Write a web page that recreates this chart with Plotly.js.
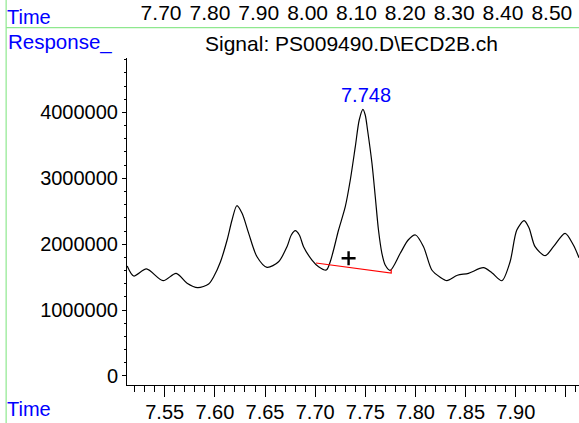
<!DOCTYPE html>
<html>
<head>
<meta charset="utf-8">
<script src="https://cdn.plot.ly/plotly-3.0.1.min.js"></script>
<style>html,body{margin:0;padding:0;background:#fff;}#chart{width:579px;height:423px;}</style>
</head>
<body>
<div id="chart"></div>
<script>
// Retention time (min) of the chromatogram trace
const time = [7.5126, 7.5191, 7.5318, 7.5484, 7.5614, 7.5723, 7.5829, 7.5938, 7.5988, 7.6055,
  7.6122, 7.6171, 7.6219, 7.6271, 7.6337, 7.6420, 7.6520, 7.6635, 7.6719, 7.6762,
  7.6802, 7.6842, 7.6884, 7.6968, 7.7034, 7.7111, 7.7150, 7.7183, 7.7233, 7.7300,
  7.7350, 7.7400, 7.7439, 7.7476, 7.7499, 7.7522, 7.7566, 7.7599, 7.7631, 7.7665,
  7.7698, 7.7748, 7.7848, 7.7927, 7.8000, 7.8080, 7.8163, 7.8246, 7.8313, 7.8418,
  7.8528, 7.8677, 7.8764, 7.8861, 7.8943, 7.9010, 7.9083, 7.9132, 7.9192, 7.9292,
  7.9375, 7.9491, 7.9574, 7.9630];
// Detector response
const response = [1669000, 1517000, 1624000, 1446000, 1558000, 1407000, 1340000, 1396000, 1507000, 1730000,
  2064000, 2367000, 2584000, 2469000, 2165000, 1810000, 1649000, 1734000, 1962000, 2140000,
  2205000, 2140000, 1962000, 1760000, 1659000, 1608000, 1734000, 1912000, 2215000, 2569000,
  2974000, 3480000, 3885000, 4047000, 3961000, 3733000, 3228000, 2721000, 2215000, 1862000,
  1684000, 1604000, 1862000, 2064000, 2140000, 1962000, 1608000, 1498000, 1446000, 1528000,
  1558000, 1643000, 1563000, 1446000, 1734000, 2215000, 2357000, 2246000, 1962000, 1826000,
  1962000, 2165000, 1988000, 1795000];
// Integration baseline (start, end, end tick)
const baseTime = [7.7008, 7.7758, 7.7758];
const baseResp = [1715000, 1563000, 1617000];
// Peak apex marker "+"
const markTime = [7.7333];
const markResp = [1786000];
// Peak label
const peakTime = 7.7476;
const peakResp = 4047000;
const peakLabel = "7.748";
// Axis ticks
const xTickVals = [7.55, 7.60, 7.65, 7.70, 7.75, 7.80, 7.85, 7.90, 7.95];
const xTickText = ["7.55", "7.60", "7.65", "7.70", "7.75", "7.80", "7.85", "7.90", ""];
const yTickVals = [0, 1000000, 2000000, 3000000, 4000000];
const yTickText = ["0", "1000000", "2000000", "3000000", "4000000"];
const topTickVals = [7.70, 7.80, 7.90, 8.00, 8.10, 8.20, 8.30, 8.40, 8.50];
const topTickText = ["7.70", "7.80", "7.90", "8.00", "8.10", "8.20", "8.30", "8.40", "8.50"];
const titleText = "Signal: PS009490.D\\ECD2B.ch";

const FONT = "Liberation Sans, Arial, sans-serif";
const BLUE = "#0000ff";
const GREEN = "#8ee88e";
const PH = 361; // plot height in px (paper units helper)
const py = p => (385 - p) / PH;

const traces = [
  {x: time, y: response, type: "scatter", mode: "lines",
   line: {color: "#000", width: 1.2, shape: "spline", smoothing: 0.8}, hoverinfo: "skip"},
  {x: baseTime, y: baseResp, type: "scatter", mode: "lines",
   line: {color: "#ff0000", width: 1.2}, hoverinfo: "skip"},
  {x: markTime, y: markResp, type: "scatter", mode: "markers",
   marker: {symbol: "cross-thin", size: 10, line: {color: "#000", width: 2.4}}, hoverinfo: "skip"},
  {x: topTickVals, y: topTickVals.map(() => null), xaxis: "x2", type: "scatter", mode: "markers",
   hoverinfo: "skip"}
];

const layout = {
  width: 579, height: 423,
  margin: {l: 126.5, r: 0, t: 24, b: 38, pad: 0},
  paper_bgcolor: "#fff", plot_bgcolor: "#fff",
  showlegend: false,
  font: {family: FONT, size: 20, color: "#000"},
  xaxis: {
    range: [7.5124, 7.963], showgrid: false, zeroline: false,
    showline: true, linecolor: "#000", linewidth: 1,
    tickmode: "array", tickvals: xTickVals, ticktext: xTickText,
    ticks: "outside", ticklen: 11, tickwidth: 1, tickcolor: "#000",
    ticklabelstandoff: -2,
    tickfont: {family: FONT, size: 20, color: "#000"},
    minor: {tickmode: "linear", tick0: 7.5, dtick: 0.01, ticks: "outside", ticklen: 6, tickwidth: 1, tickcolor: "#000", showgrid: false},
    anchor: "y"
  },
  xaxis2: {
    overlaying: "x", side: "top", anchor: "free", position: 1,
    range: [7.6303, 8.5556], showgrid: false, zeroline: false, showline: false,
    tickmode: "array", tickvals: topTickVals, ticktext: topTickText, ticks: "",
    tickfont: {family: FONT, size: 21, color: "#000"}
  },
  yaxis: {
    domain: [0, (385 - 58) / PH],
    range: [-137000, 4826000], showgrid: false, zeroline: false,
    showline: true, linecolor: "#000", linewidth: 1,
    tickmode: "array", tickvals: yTickVals, ticktext: yTickText,
    ticks: "outside", ticklen: 4, tickwidth: 1, tickcolor: "#000",
    tickfont: {family: FONT, size: 20, color: "#000"},
    minor: {tickmode: "linear", tick0: 0, dtick: 200000, ticks: "outside", ticklen: 2, tickwidth: 1, tickcolor: "#000", showgrid: false}
  },
  shapes: [
    {type: "line", xref: "paper", yref: "paper", x0: -0.2674, x1: -0.2674, y0: py(0), y1: py(423),
     line: {color: GREEN, width: 1.2}},
    {type: "line", xref: "paper", yref: "paper", x0: -0.2674, x1: 1, y0: py(27.7), y1: py(27.7),
     line: {color: GREEN, width: 1.2}}
  ],
  annotations: [
    {text: "Time", xref: "paper", yref: "paper", x: -0.2641, xshift: -3, y: py(17),
     xanchor: "left", yanchor: "middle", showarrow: false, font: {family: FONT, size: 20, color: BLUE}},
    {text: "Response_", xref: "paper", yref: "paper", x: -0.262, xshift: -3, y: py(42),
     xanchor: "left", yanchor: "middle", showarrow: false, font: {family: FONT, size: 20.5, color: BLUE}},
    {text: titleText, xref: "paper", yref: "paper", x: 0.496, y: py(43),
     xanchor: "center", yanchor: "middle", showarrow: false, font: {family: FONT, size: 21, color: "#000"}},
    {text: "Time", xref: "paper", yref: "paper", x: -0.2641, xshift: -3, y: py(409),
     xanchor: "left", yanchor: "middle", showarrow: false, font: {family: FONT, size: 20, color: BLUE}},
    {text: peakLabel, x: peakTime, y: peakResp, xref: "x", yref: "y",
     xanchor: "center", yanchor: "bottom", xshift: 3, yshift: 1, showarrow: false,
     font: {family: FONT, size: 20, color: BLUE}}
  ]
};

Plotly.newPlot("chart", traces, layout, {staticPlot: true, displayModeBar: false});
</script>
</body>
</html>
